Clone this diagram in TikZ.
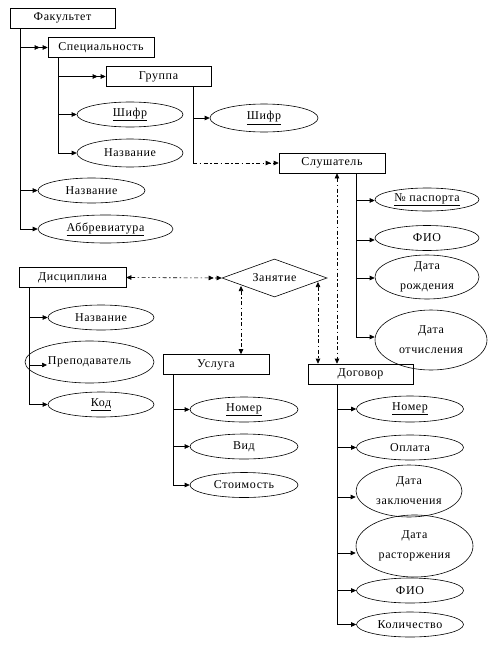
\documentclass[tikz,border=0pt]{standalone}
\usepackage{fontspec}
\setmainfont{Liberation Serif}[LetterSpace=5]
\usetikzlibrary{arrows.meta, shapes.geometric}

\begin{document}
\begin{tikzpicture}[x=1pt, y=-1pt, font=\fontsize{12}{20}\selectfont, line width=0.6pt,
    ent/.style={draw, rectangle, minimum width=105pt, minimum height=20pt, inner sep=0pt},
    attr/.style={draw, ellipse, minimum width=106pt, minimum height=25pt, inner sep=0pt, align=center},
    arr/.style={-{Triangle[length=5pt,width=4.5pt]}},
    arrtwo/.style={-{Triangle[length=5pt,width=4.5pt,sep=3pt]Triangle[length=5pt,width=4.5pt]}},
    arrboth/.style={{Triangle[length=5pt,width=4.5pt]}-{Triangle[length=5pt,width=4.5pt]}},
    dsh/.style={dash pattern=on 4pt off 2.5pt on 1.5pt off 2.5pt}]
            \useasboundingbox (0,0) rectangle (494,645);
            % entities
            \node[ent] (fac) at (62.5,18) {Факультет};
            \node[ent, minimum width=106pt] (spec) at (101,47.5) {Специальность};
            \node[ent] (grp) at (158.5,76.5) {Группа};
            \node[ent, minimum width=106pt] (stud) at (332,163) {Слушатель};
            \node[ent, minimum width=107pt] (disc) at (72.5,277.5) {Дисциплина};
            \node[ent, minimum width=106pt] (usl) at (216,364.5) {Услуга};
            \node[ent] (dog) at (360.5,374) {Договор};
            \node[draw, diamond, aspect=2.6, minimum width=105pt, minimum height=38pt, inner sep=0pt] (zan) at (274.5,278) {Занятие};
            % attributes
            \node[attr] (shifr) at (130,114.5) {\underline{Шифр}};
            \node[attr, minimum height=28pt] (nazv) at (130,153) {Название};
            \node[attr, minimum width=107pt] (fnazv) at (91.5,190.5) {Название};
            \node[attr, minimum width=135pt, minimum height=28pt] (abbr) at (105.5,229) {\underline{Аббревиатура}};
            \node[attr, minimum width=108pt, minimum height=28pt] (gshifr) at (264,118) {\underline{Шифр}};
            \node[attr, minimum width=104pt, minimum height=23pt] (pasp) at (427,199.5) {\underline{№ паспорта}};
            \node[attr, minimum width=104pt] (sfio) at (427,238) {ФИО};
            \node[attr, minimum width=104pt, minimum height=44pt] (drozh) at (427,277) {Дата\\рождения};
            \node[attr, minimum width=112pt, minimum height=60pt] (dotch) at (431,340) {Дата\\отчисления};
            \node[attr] (dnazv) at (101,317.5) {Название};
            \node[attr, minimum width=129pt, minimum height=42pt] (prep) at (89.5,362) {Преподаватель};
            \node[attr] (kod) at (101,404.5) {\underline{Код}};
            \node[attr, minimum width=108pt] (unom) at (244,409.5) {\underline{Номер}};
            \node[attr, minimum width=108pt] (vid) at (244,446.5) {Вид};
            \node[attr, minimum width=108pt] (stoim) at (244,485) {Стоимость};
            \node[attr, minimum width=107pt, minimum height=26pt] (dnom) at (410,409) {\underline{Номер}};
            \node[attr, minimum width=107pt] (opl) at (410,447.5) {Оплата};
            \node[attr, minimum height=52pt] (dzak) at (409,491) {Дата\\заключения};
            \node[attr, minimum width=117pt, minimum height=62pt] (dras) at (414.5,546) {Дата\\расторжения};
            \node[attr, minimum width=107pt] (dfio) at (410,590.5) {ФИО};
            \node[attr, minimum width=107pt] (kol) at (410,624.5) {Количество};
            % spines
            \coordinate (fs) at (20,28);
            \coordinate (ss) at (58,57);
            \coordinate (gs) at (193,86);
            \coordinate (gc) at (193,163);
            \coordinate (sts) at (356,173);
            \coordinate (ds) at (29,287);
            \coordinate (pin) at (47,365);
            \coordinate (us) at (173,374.5);
            \coordinate (dgs) at (337,384);
            \coordinate (z1) at (241,286);
            \coordinate (z2) at (318,282);
            \draw[arrtwo] (fs) |- (spec);
            \foreach \t in {fnazv,abbr} \draw[arr] (fs) |- (\t);
            \draw[arrtwo] (ss) |- (grp);
            \foreach \t in {shifr,nazv} \draw[arr] (ss) |- (\t);
            \draw[arr] (gs) |- (gshifr);
            \draw (gs) -- (gc);
            \draw[dsh, arrtwo] (gc) -- (stud);
            \draw[arr] (sts) |- ([yshift=-1pt]pasp.west);
            \draw[arr] (sts) |- ([yshift=-2pt]sfio.west);
            \draw[arr] (sts) |- ([yshift=-1pt]drozh.west);
            \draw[arr] (sts) |- ([yshift=3pt]dotch.west);
            \foreach \t in {dnazv,kod} \draw[arr] (ds) |- (\t);
            \draw[arr] (ds) |- (pin);
            \foreach \t in {unom,vid,stoim} \draw[arr] (us) |- (\t);
            \foreach \t in {dnom,opl,dfio,kol} \draw[arr] (dgs) |- (\t);
            \draw[arr] (dgs) |- ([yshift=-6pt]dzak.west);
            \draw[arr] (dgs) |- ([yshift=-7pt]dras.west);
            % relations
            \draw[dsh, {Triangle[length=5pt,width=4.5pt]}-{Triangle[length=5pt,width=4.5pt,sep=3pt]Triangle[length=5pt,width=4.5pt]}] (disc.east) -- (zan.west);
            \draw[dsh, arrboth] (z1) -- (usl.north -| z1);
            \draw[dsh, arrboth] (z2) -- (dog.north -| z2);
            \draw[dsh, arrboth] ([xshift=5pt]stud.south) -- ([xshift=-23.5pt]dog.north);
        \end{tikzpicture}
\end{document}
